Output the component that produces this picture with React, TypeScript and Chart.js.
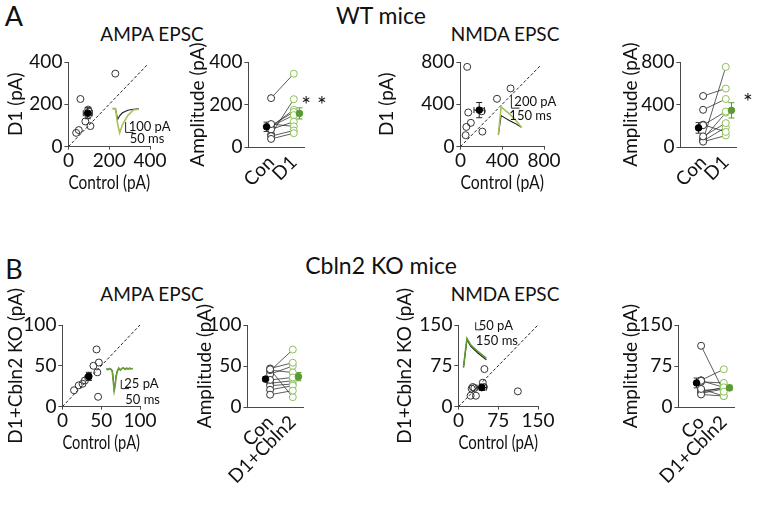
import React, { useEffect, useRef } from "react";
import { Chart, registerables } from "chart.js";
Chart.register(...registerables);

const FONT = "Lato, 'Open Sans', 'DejaVu Sans', sans-serif";
const TEXT = "#111111";
const AXIS = "#4a4a4a";
const GREEN_OPEN = "#8dbf5c";
const GREEN_FILL = "#5b9a33";
const TICK_SIZE = 19;
const TITLE_SIZE = 19;

// ---------------- data ----------------
// WT, AMPA EPSC (pA)
const wtAmpaControl = [230, 59, 97, 100, 97, 83, 108, 51, 38];
const wtAmpaD1 = [345, 225, 175, 165, 150, 119, 97, 78, 65];
const wtAmpaMean = [95, 158];
const wtAmpaSem = [22, 26];
// WT, NMDA EPSC (pA)
const wtNmdaControl = [65, 75, 57, 50, 100, 210, 350, 480, 205];
const wtNmdaD1 = [754, 323, 186, 108, 225, 142, 452, 550, 334];
const wtNmdaMean = [180, 345];
const wtNmdaSem = [50, 72];
// Cbln2 KO, AMPA EPSC (pA)
const koAmpaControl = [44, 40, 47, 45, 46, 29, 26, 21, 15, 33];
const koAmpaD1 = [70, 50, 54, 42, 12, 32, 28, 26, 20, 36];
const koAmpaMean = [34, 37];
const koAmpaSem = [3, 5];
// Cbln2 KO, NMDA EPSC (pA)
const koNmdaControl = [49, 27, 25, 30, 23, 33, 46, 48, 112];
const koNmdaD1 = [69, 36, 33, 34, 20, 20, 44, 36, 28];
const koNmdaMean = [44, 35];
const koNmdaSem = [9, 5];

// example traces (ms, pA)
const wtAmpaTraceTime = [0, 18, 32, 45, 63, 98, 134, 170];
const wtAmpaTraceControl = [0, 0, -105, -70, -40, -15, -5, 0];
const wtAmpaTraceD1 = [0, 0, -150, -237, -158, -66, -13, -5];

const wtNmdaTraceTime = [0, 50, 120, 200, 300, 425];
const wtNmdaTraceControl = [0, 284, 250, 212, 172, 112];
const wtNmdaTraceD1 = [0, 412, 365, 312, 232, 112];

const koAmpaTraceTime = [0, 10, 20, 30, 38, 44, 50, 56, 62, 70, 80, 90, 100, 110, 120, 130, 140, 150, 160, 170];
const koAmpaTraceControl = [0, -2, 0, -1, -6, -30, -58, -45, -22, -6, 1, -3, 0, 2, -1, 1, 0, 1, 0, 0];
const koAmpaTraceD1 = [0, -3, 1, -2, -8, -35, -64, -50, -25, -8, 2, -4, 1, 3, -2, 2, -1, 2, 0, 1];

const koNmdaTraceTime = [0, 40, 77, 163, 327, 510];
const koNmdaTraceControl = [0, 95, 182, 138, 93, 50];
const koNmdaTraceD1 = [0, 100, 190, 147, 103, 60];

// axis ticks
const wtAmpaTicks = [0, 200, 400];
const wtNmdaTicks = [0, 400, 800];
const koAmpaTicks = [0, 50, 100];
const koNmdaTicks = [0, 75, 150];
const wtCategories = ["Con", "D1"];
const koAmpaCategories = ["Con", "D1+Cbln2"];
const koNmdaCategories = ["Co", "D1+Cbln2"];

// ---------------- helpers ----------------
type Box = { l: number; t: number; w: number; h: number };
type Pad = { l: number; t: number; r: number; b: number };

const tickFont = { family: FONT, size: TICK_SIZE };
const titleFont = { family: FONT, size: TITLE_SIZE };

const errorBarPlugin = {
  id: "errbars",
  beforeDatasetsDraw(chart: any, _a: any, opts: any) {
    const items = (opts && opts.items) || [];
    const ctx = chart.ctx;
    const xs = chart.scales.x;
    const ys = chart.scales.y;
    ctx.save();
    for (const it of items) {
      const px = xs.getPixelForValue(it.x);
      const py = ys.getPixelForValue(it.y);
      ctx.strokeStyle = it.color;
      ctx.lineWidth = 1;
      ctx.beginPath();
      if (it.ey) {
        const y1 = ys.getPixelForValue(it.y - it.ey);
        const y2 = ys.getPixelForValue(it.y + it.ey);
        ctx.moveTo(px, y1); ctx.lineTo(px, y2);
        ctx.moveTo(px - 3, y1); ctx.lineTo(px + 3, y1);
        ctx.moveTo(px - 3, y2); ctx.lineTo(px + 3, y2);
      }
      if (it.ex) {
        const x1 = xs.getPixelForValue(it.x - it.ex);
        const x2 = xs.getPixelForValue(it.x + it.ex);
        ctx.moveTo(x1, py); ctx.lineTo(x2, py);
        ctx.moveTo(x1, py - 3); ctx.lineTo(x1, py + 3);
        ctx.moveTo(x2, py - 3); ctx.lineTo(x2, py + 3);
      }
      ctx.stroke();
    }
    ctx.restore();
  },
};

const scaleBarPlugin = {
  id: "scalebar",
  afterDatasetsDraw(chart: any, _a: any, o: any) {
    if (!o || o.t === undefined) return;
    const ctx = chart.ctx;
    const xs = chart.scales.x;
    const ys = chart.scales.y;
    const x0 = xs.getPixelForValue(o.t);
    const x1 = xs.getPixelForValue(o.t + o.dt);
    const y0 = ys.getPixelForValue(o.y);
    const y1 = ys.getPixelForValue(o.y + o.dy);
    ctx.save();
    ctx.strokeStyle = "#222";
    ctx.lineWidth = 1;
    ctx.beginPath();
    ctx.moveTo(x0, y1); ctx.lineTo(x0, y0); ctx.lineTo(x1, y0);
    ctx.stroke();
    ctx.fillStyle = TEXT;
    ctx.font = `13px ${FONT}`;
    ctx.textAlign = "left";
    ctx.textBaseline = "middle";
    ctx.fillText(o.yLabel, x0 + o.yDx, (y0 + y1) / 2);
    ctx.textBaseline = "top";
    ctx.fillText(o.tLabel, x0 + o.tDx, y0 + o.tDy);
    ctx.restore();
  },
};

function baseOptions(pad: Pad) {
  return {
    responsive: false,
    maintainAspectRatio: false,
    animation: false as const,
    devicePixelRatio: 1,
    events: [] as any[],
    layout: { padding: { left: pad.l, top: pad.t, right: pad.r, bottom: pad.b } },
    plugins: {
      legend: { display: false },
      tooltip: { enabled: false },
      title: { display: false },
    } as any,
  };
}

function yAxis(ticks: number[], title: string, yW: number) {
  return {
    type: "linear",
    position: "left",
    min: ticks[0],
    max: ticks[ticks.length - 1],
    afterFit: (s: any) => { s.width = yW; },
    afterBuildTicks: (s: any) => { s.ticks = ticks.map((v) => ({ value: v })); },
    ticks: { color: TEXT, font: tickFont, padding: 2 },
    grid: { drawOnChartArea: false, drawTicks: true, tickLength: 4, color: AXIS, lineWidth: 1 },
    border: { display: true, color: AXIS, width: 1 },
    title: { display: true, text: title, color: TEXT, font: titleFont, padding: 0 },
  };
}

function xAxisLinear(ticks: number[], title: string, xH: number) {
  return {
    type: "linear",
    position: "bottom",
    min: ticks[0],
    max: ticks[ticks.length - 1],
    afterFit: (s: any) => { s.height = xH; },
    afterBuildTicks: (s: any) => { s.ticks = ticks.map((v) => ({ value: v })); },
    ticks: { color: TEXT, font: tickFont, padding: 0, minRotation: 0, maxRotation: 0, autoSkip: false },
    grid: { drawOnChartArea: false, drawTicks: true, tickLength: 3, color: AXIS, lineWidth: 1 },
    border: { display: true, color: AXIS, width: 1 },
    title: { display: true, text: title, color: TEXT, font: titleFont, padding: 0 },
  };
}

function xAxisCategory(labels: string[], xH: number) {
  return {
    type: "linear",
    position: "bottom",
    min: 0,
    max: 2.45,
    afterFit: (s: any) => { s.height = xH; },
    afterBuildTicks: (s: any) => { s.ticks = labels.map((_l, i) => ({ value: i + 1 })); },
    ticks: {
      color: TEXT, font: tickFont, padding: 4, minRotation: 45, maxRotation: 45, autoSkip: false,
      callback: (_v: any, i: number) => labels[i],
    },
    grid: { drawOnChartArea: false, drawTicks: false, color: AXIS },
    border: { display: true, color: AXIS, width: 1 },
  };
}

type ScatterSpec = {
  control: number[]; treated: number[]; mean: number[]; sem: number[];
  ticks: number[]; diag: number[]; xTitle: string; yTitle: string;
};

function scatterConfig(p: ScatterSpec, yW: number, xH: number, pad: Pad) {
  const pts = p.control.map((c, i) => ({ x: c, y: p.treated[i] }));
  const opts: any = baseOptions(pad);
  opts.scales = { x: xAxisLinear(p.ticks, p.xTitle, xH), y: yAxis(p.ticks, p.yTitle, yW) };
  opts.plugins.errbars = { items: [{ x: p.mean[0], y: p.mean[1], ex: p.sem[0], ey: p.sem[1], color: "#222" }] };
  return {
    type: "scatter",
    data: {
      datasets: [
        { data: [{ x: p.mean[0], y: p.mean[1] }], pointRadius: 3.3, pointBackgroundColor: "#000", pointBorderColor: "#000", pointBorderWidth: 1, order: 0, clip: false },
        { data: pts, pointRadius: 3.5, pointBackgroundColor: "rgba(255,255,255,0)", pointBorderColor: "#333", pointBorderWidth: 1, order: 1, clip: false },
        { data: p.diag.map((v) => ({ x: v, y: v })), showLine: true, borderDash: [3, 2], borderColor: "#222", borderWidth: 1, pointRadius: 0, order: 2 },
      ],
    },
    options: opts,
    plugins: [errorBarPlugin],
  } as any;
}

type PairedSpec = {
  control: number[]; treated: number[]; mean: number[]; sem: number[];
  ticks: number[]; labels: string[]; yTitle: string;
};

const pairX = [1, 2];
const meanX = [0.8, 2.25];

function pairedConfig(p: PairedSpec, yW: number, xH: number, pad: Pad) {
  const opts: any = baseOptions(pad);
  opts.scales = { x: xAxisCategory(p.labels, xH), y: yAxis(p.ticks, p.yTitle, yW) };
  opts.plugins.errbars = {
    items: [
      { x: meanX[0], y: p.mean[0], ey: p.sem[0], color: "#333" },
      { x: meanX[1], y: p.mean[1], ey: p.sem[1], color: GREEN_FILL },
    ],
  };
  const lines = p.control.map((c, i) => ({
    data: [{ x: pairX[0], y: c }, { x: pairX[1], y: p.treated[i] }],
    showLine: true, borderColor: "#333", borderWidth: 0.8, pointRadius: 0, order: 5, clip: false,
  }));
  return {
    type: "scatter",
    data: {
      datasets: [
        { data: [{ x: meanX[0], y: p.mean[0] }], pointRadius: 3.3, pointBackgroundColor: "#000", pointBorderColor: "#000", pointBorderWidth: 1, order: 0, clip: false },
        { data: [{ x: meanX[1], y: p.mean[1] }], pointRadius: 3.3, pointBackgroundColor: GREEN_FILL, pointBorderColor: GREEN_FILL, pointBorderWidth: 1, order: 0, clip: false },
        { data: p.control.map((v) => ({ x: pairX[0], y: v })), pointRadius: 3.5, pointBackgroundColor: "#fff", pointBorderColor: "#333", pointBorderWidth: 1, order: 1, clip: false },
        { data: p.treated.map((v) => ({ x: pairX[1], y: v })), pointRadius: 3.5, pointBackgroundColor: "#fff", pointBorderColor: GREEN_OPEN, pointBorderWidth: 1, order: 1, clip: false },
        ...lines,
      ],
    },
    options: opts,
    plugins: [errorBarPlugin],
  } as any;
}

function ChartBox({ box, yW, xH, pad, build }: { box: Box; yW: number; xH: number; pad: Pad; build: () => any }) {
  const ref = useRef<HTMLCanvasElement | null>(null);
  const cw = Math.round(pad.l + yW + box.w + pad.r);
  const ch = Math.round(pad.t + box.h + xH + pad.b);
  useEffect(() => {
    const c = new Chart(ref.current as HTMLCanvasElement, build());
    return () => c.destroy();
  }, []);
  return (
    <canvas
      ref={ref}
      width={cw}
      height={ch}
      style={{ position: "absolute", left: box.l - yW - pad.l, top: box.t - pad.t, width: cw, height: ch }}
    />
  );
}

type InsetSpec = {
  ox: number; oy: number; kx: number; ky: number; rect: number[];
  bar: { t: number; y: number; dt: number; dy: number; yLabel: string; tLabel: string; yDx: number; tDx: number; tDy: number };
  green: string;
};

function Inset({ box, spec, time, control, treated }: { box: Box; spec: InsetSpec; time: number[]; control: number[]; treated: number[] }) {
  const ref = useRef<HTMLCanvasElement | null>(null);
  const [fx0, fy0, fx1, fy1] = spec.rect;
  const left = Math.round(box.l + fx0 * box.w);
  const top = Math.round(box.t + fy0 * box.h);
  const w = Math.round((fx1 - fx0) * box.w);
  const h = Math.round((fy1 - fy0) * box.h);
  useEffect(() => {
    const tMin = (fx0 - spec.ox) / spec.kx;
    const tMax = (fx1 - spec.ox) / spec.kx;
    const yMax = (spec.oy - fy0) / spec.ky;
    const yMin = (spec.oy - fy1) / spec.ky;
    const opts: any = baseOptions({ l: 0, t: 0, r: 0, b: 0 });
    opts.scales = {
      x: { type: "linear", display: false, min: tMin, max: tMax },
      y: { type: "linear", display: false, min: yMin, max: yMax },
    };
    opts.plugins.scalebar = spec.bar;
    const c = new Chart(ref.current as HTMLCanvasElement, {
      type: "scatter",
      data: {
        datasets: [
          { data: time.map((t, i) => ({ x: t, y: treated[i] })), showLine: true, borderColor: spec.green, borderWidth: 1.6, pointRadius: 0, order: 0 },
          { data: time.map((t, i) => ({ x: t, y: control[i] })), showLine: true, borderColor: "#1a1a1a", borderWidth: 1.1, pointRadius: 0, order: 1 },
        ],
      },
      options: opts,
      plugins: [scaleBarPlugin],
    } as any);
    return () => c.destroy();
  }, []);
  return <canvas ref={ref} width={w} height={h} style={{ position: "absolute", left, top, width: w, height: h }} />;
}

function Txt({ x, y, size, children }: { x: number; y: number; size: number; children: React.ReactNode }) {
  return (
    <div
      style={{
        position: "absolute", left: x, top: y, transform: "translate(-50%, -50%)",
        fontFamily: FONT, fontSize: size, color: TEXT, whiteSpace: "nowrap", lineHeight: 1,
      }}
    >
      {children}
    </div>
  );
}

// ---------------- layout ----------------
const A1: Box = { l: 68, t: 62, w: 82, h: 85 };
const A2: Box = { l: 248, t: 62, w: 56, h: 85 };
const A3: Box = { l: 460, t: 62, w: 84, h: 85 };
const A4: Box = { l: 680, t: 62, w: 56, h: 85 };
const B1: Box = { l: 62, t: 325, w: 78, h: 82 };
const B2: Box = { l: 247, t: 325, w: 56, h: 82 };
const B3: Box = { l: 458, t: 325, w: 80, h: 82 };
const B4: Box = { l: 678, t: 325, w: 56, h: 82 };

const PAD: Pad = { l: 0, t: 44, r: 22, b: 2 };
const HALF_TITLE = TITLE_SIZE * 0.6;
const yWidth = (b: Box, titleX: number) => b.l - titleX + HALF_TITLE;
const xHeight = (b: Box, titleY: number) => titleY - (b.t + b.h) + HALF_TITLE;

const insetWtAmpa: InsetSpec = {
  ox: 0.545, oy: 0.553, kx: 0.001882, ky: 0.001214, rect: [0.5, 0.45, 1.5, 1.02],
  bar: { t: 84, y: -232, dt: 50, dy: 100, yLabel: "100 pA", tLabel: "50 ms", yDx: 3, tDx: 4, tDy: 0 },
  green: "#a3c25a",
};
const insetWtNmda: InsetSpec = {
  ox: 0.452, oy: 0.865, kx: 0.000645, ky: 0.000806, rect: [0.4, 0.25, 1.35, 0.95],
  bar: { t: 239, y: 393, dt: 150, dy: 200, yLabel: "200 pA", tLabel: "150 ms", yDx: 3, tDx: -2, tDy: 1 },
  green: "#a3c25a",
};
const insetKoAmpa: InsetSpec = {
  ox: 0.57, oy: 0.532, kx: 0.001985, ky: 0.00426, rect: [0.5, 0.4, 1.4, 1.0],
  bar: { t: 96, y: -57, dt: 50, dy: 25, yLabel: "25 pA", tLabel: "50 ms", yDx: 3, tDx: 4, tDy: 5 },
  green: "#6a9f3a",
};
const insetKoNmda: InsetSpec = {
  ox: 0.073, oy: 0.508, kx: 0.000558, ky: 0.00184, rect: [-0.02, -0.15, 0.9, 0.6],
  bar: { t: 272, y: 247, dt: 150, dy: 50, yLabel: "50 pA", tLabel: "150 ms", yDx: 3, tDx: 0, tDy: 4 },
  green: "#5e9a2e",
};

const yA1 = yWidth(A1, 15), xA1 = xHeight(A1, 183);
const yA2 = yWidth(A2, 197), xA2 = 42;
const yA3 = yWidth(A3, 386), xA3 = xHeight(A3, 183);
const yA4 = yWidth(A4, 630), xA4 = 42;
const yB1 = yWidth(B1, 15), xB1 = xHeight(B1, 443);
const yB2 = yWidth(B2, 204), xB2 = 112;
const yB3 = yWidth(B3, 404), xB3 = xHeight(B3, 443);
const yB4 = yWidth(B4, 630), xB4 = 112;

export default function App() {
  return (
    <div style={{ position: "absolute", left: 0, top: 0, width: 762, height: 524, background: "#fff", overflow: "hidden" }}>
      <Txt x={14} y={15} size={27}>A</Txt>
      <Txt x={381} y={15} size={23}>WT mice</Txt>
      <Txt x={152} y={33} size={19}>AMPA EPSC</Txt>
      <Txt x={505} y={33} size={19}>NMDA EPSC</Txt>
      <Txt x={14} y={268} size={27}>B</Txt>
      <Txt x={381} y={265} size={23}>Cbln2 KO mice</Txt>
      <Txt x={152} y={293} size={19}>AMPA EPSC</Txt>
      <Txt x={505} y={293} size={19}>NMDA EPSC</Txt>

      <ChartBox box={A1} yW={yA1} xH={xA1} pad={PAD} build={() => scatterConfig({
        control: wtAmpaControl, treated: wtAmpaD1, mean: wtAmpaMean, sem: wtAmpaSem,
        ticks: wtAmpaTicks, diag: [0, 390], xTitle: "Control (pA)", yTitle: "D1 (pA)",
      }, yA1, xA1, PAD)} />
      <Inset box={A1} spec={insetWtAmpa} time={wtAmpaTraceTime} control={wtAmpaTraceControl} treated={wtAmpaTraceD1} />

      <ChartBox box={A2} yW={yA2} xH={xA2} pad={PAD} build={() => pairedConfig({
        control: wtAmpaControl, treated: wtAmpaD1, mean: wtAmpaMean, sem: wtAmpaSem,
        ticks: wtAmpaTicks, labels: wtCategories, yTitle: "Amplitude (pA)",
      }, yA2, xA2, PAD)} />
      <Txt x={314} y={104} size={23}>* *</Txt>

      <ChartBox box={A3} yW={yA3} xH={xA3} pad={PAD} build={() => scatterConfig({
        control: wtNmdaControl, treated: wtNmdaD1, mean: wtNmdaMean, sem: wtNmdaSem,
        ticks: wtNmdaTicks, diag: [0, 760], xTitle: "Control (pA)", yTitle: "D1 (pA)",
      }, yA3, xA3, PAD)} />
      <Inset box={A3} spec={insetWtNmda} time={wtNmdaTraceTime} control={wtNmdaTraceControl} treated={wtNmdaTraceD1} />

      <ChartBox box={A4} yW={yA4} xH={xA4} pad={PAD} build={() => pairedConfig({
        control: wtNmdaControl, treated: wtNmdaD1, mean: wtNmdaMean, sem: wtNmdaSem,
        ticks: wtNmdaTicks, labels: wtCategories, yTitle: "Amplitude (pA)",
      }, yA4, xA4, PAD)} />
      <Txt x={748} y={101} size={23}>*</Txt>

      <ChartBox box={B1} yW={yB1} xH={xB1} pad={PAD} build={() => scatterConfig({
        control: koAmpaControl, treated: koAmpaD1, mean: koAmpaMean, sem: koAmpaSem,
        ticks: koAmpaTicks, diag: [0, 100], xTitle: "Control (pA)", yTitle: "D1+Cbln2 KO (pA)",
      }, yB1, xB1, PAD)} />
      <Inset box={B1} spec={insetKoAmpa} time={koAmpaTraceTime} control={koAmpaTraceControl} treated={koAmpaTraceD1} />

      <ChartBox box={B2} yW={yB2} xH={xB2} pad={PAD} build={() => pairedConfig({
        control: koAmpaControl, treated: koAmpaD1, mean: koAmpaMean, sem: koAmpaSem,
        ticks: koAmpaTicks, labels: koAmpaCategories, yTitle: "Amplitude (pA)",
      }, yB2, xB2, PAD)} />

      <ChartBox box={B3} yW={yB3} xH={xB3} pad={PAD} build={() => scatterConfig({
        control: koNmdaControl, treated: koNmdaD1, mean: koNmdaMean, sem: koNmdaSem,
        ticks: koNmdaTicks, diag: [0, 150], xTitle: "Control (pA)", yTitle: "D1+Cbln2 KO (pA)",
      }, yB3, xB3, PAD)} />
      <Inset box={B3} spec={insetKoNmda} time={koNmdaTraceTime} control={koNmdaTraceControl} treated={koNmdaTraceD1} />

      <ChartBox box={B4} yW={yB4} xH={xB4} pad={PAD} build={() => pairedConfig({
        control: koNmdaControl, treated: koNmdaD1, mean: koNmdaMean, sem: koNmdaSem,
        ticks: koNmdaTicks, labels: koNmdaCategories, yTitle: "Amplitude (pA)",
      }, yB4, xB4, PAD)} />
    </div>
  );
}
